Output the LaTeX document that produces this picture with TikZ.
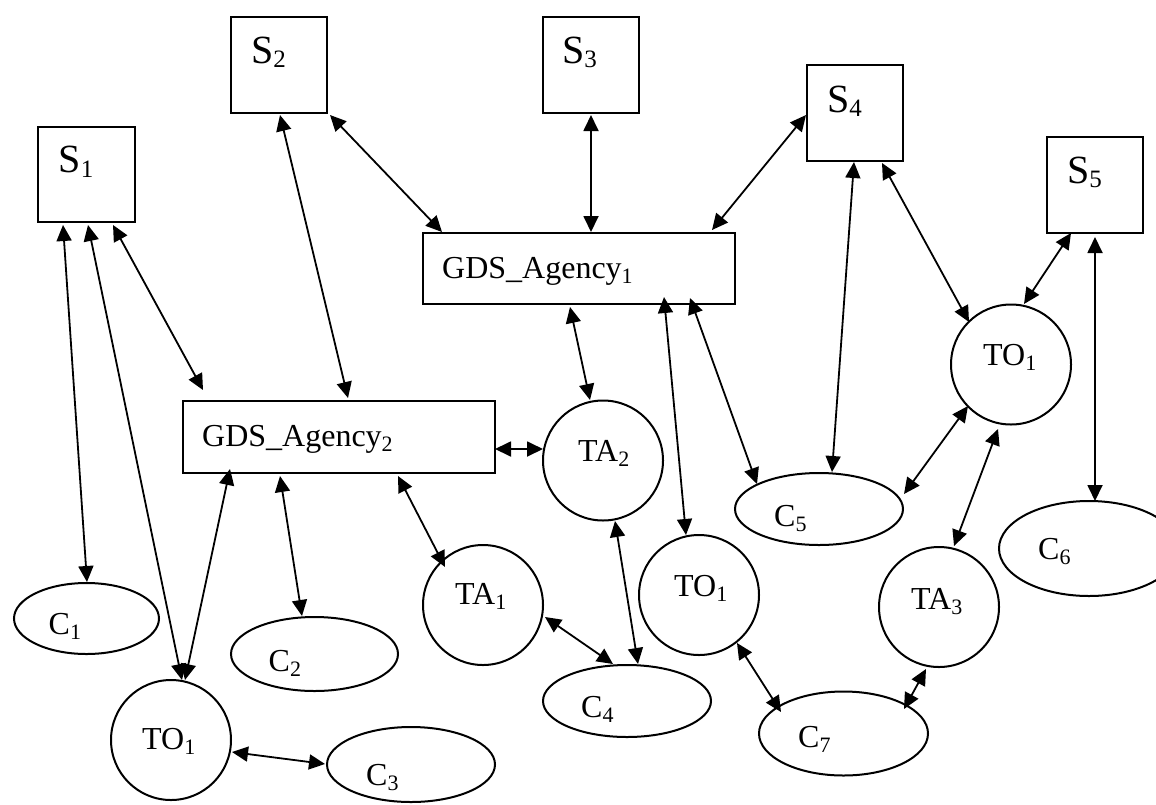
\documentclass[tikz,border=0pt]{standalone}
\usepackage{fontspec}
\setmainfont{Liberation Serif}
\usetikzlibrary{arrows.meta,calc,shapes.geometric}
\newcommand\lo[1]{\raisebox{-5pt}{\fontsize{22}{22}\selectfont #1}}
\newcommand\slo[1]{\raisebox{-4.5pt}{\fontsize{25}{25}\selectfont #1}}
\begin{document}
\begin{tikzpicture}[x=1pt,y=-1pt,
  sbox/.style={draw,line width=2pt,minimum width=96pt,minimum height=96pt,inner sep=0pt},
  gbox/.style={draw,line width=2pt,minimum width=312pt,minimum height=71.5pt,inner sep=0pt},
  circ/.style={draw,circle,line width=2pt,minimum size=120pt,inner sep=0pt},
  ell/.style={draw,ellipse,line width=2pt,inner sep=0pt},
  txt/.style={anchor=base west,inner sep=0pt,font=\fontsize{32}{36}\selectfont},
  stxt/.style={anchor=base west,inner sep=0pt,font=\fontsize{40}{44}\selectfont},
  con/.style={{Triangle[length=16pt,width=15pt]}-{Triangle[length=16pt,width=15pt]},line width=1.8pt}]
\useasboundingbox (0,0) rectangle (1156,804);
\fill[white] (0,0) rectangle (1156,804);
% source boxes
\node[sbox,minimum height=95pt,minimum width=97pt] (S1) at (86.5,174.5) {};
\node[sbox] (S2) at (279,65) {};
\node[sbox] (S3) at (591,65) {};
\node[sbox] (S4) at (855,113) {};
\node[sbox] (S5) at (1095,185) {};
% agencies
\node[gbox] (G1) at (579,268.5) {};
\node[gbox,minimum height=72pt] (G2) at (339,437) {};
% circles
\node[circ] (TA2) at (603,460.5) {};
\node[circ] (TA1) at (483,605) {};
\node[circ] (TOm) at (699,595) {};
\node[circ] (TOr) at (1011,364.5) {};
\node[circ] (TOl) at (171,740) {};
\node[circ] (TA3) at (939,607) {};
% ellipses
\node[ell,minimum width=145pt,minimum height=71pt] (C1) at (86.5,618.5) {};
\node[ell,minimum width=167pt,minimum height=74pt] (C2) at (314.5,654) {};
\node[ell,minimum width=168pt,minimum height=75pt] (C3) at (411,764.5) {};
\node[ell,minimum width=168pt,minimum height=72pt] (C4) at (627,701) {};
\node[ell,minimum width=168pt,minimum height=72pt] (C5) at (819,509) {};
\node[ell,minimum width=180pt,minimum height=95pt] (C6) at (1089,548.5) {};
\node[ell,minimum width=169pt,minimum height=84pt] (C7) at (843.5,733.5) {};
% labels
\node[stxt] (tS1) at ($(S1)+(-28,-2)$) {S\slo{1}};
\node[stxt] (tS2) at ($(S2)+(-28,-2)$) {S\slo{2}};
\node[stxt] (tS3) at ($(S3)+(-29,-2)$) {S\slo{3}};
\node[stxt] (tS4) at ($(S4)+(-28,-1)$) {S\slo{4}};
\node[stxt] (tS5) at ($(S5)+(-28,-2)$) {S\slo{5}};
\node[txt] (tG1) at ($(G1)+(-137,9.5)$) {GDS\_Agency\lo{1}};
\node[txt] (tG2) at ($(G2)+(-137,9)$) {GDS\_Agency\lo{2}};
\node[txt] (tTA2) at ($(TA2)+(-25,0.5)$) {TA\lo{2}};
\node[txt] (tTA1) at ($(TA1)+(-28,-1)$) {TA\lo{1}};
\node[txt] (tTOm) at ($(TOm)+(-25,1)$) {TO\lo{1}};
\node[txt] (tTOr) at ($(TOr)+(-28,0.5)$) {TO\lo{1}};
\node[txt] (tTOl) at ($(TOl)+(-29,9)$) {TO\lo{1}};
\node[txt] (tTA3) at ($(TA3)+(-28,2)$) {TA\lo{3}};
\node[txt] (tC1) at ($(C1)+(-38,15.5)$) {C\lo{1}};
\node[txt] (tC2) at ($(C2)+(-46,17)$) {C\lo{2}};
\node[txt] (tC3) at ($(C3)+(-45,20.5)$) {C\lo{3}};
\node[txt] (tC4) at ($(C4)+(-46,16)$) {C\lo{4}};
\node[txt] (tC5) at ($(C5)+(-45,17)$) {C\lo{5}};
\node[txt] (tC6) at ($(C6)+(-51,10.5)$) {C\lo{6}};
\node[txt] (tC7) at ($(C7)+(-45.5,13.5)$) {C\lo{7}};
% connectors
\draw[con] ($(S1)+(-23.5,50.5)$) -- ($(C1)+(0.5,-36.5)$);
\draw[con] ($(S1)+(1.5,50.5)$) -- ($(TOl)+(11,-60)$);
\draw[con] ($(S1)+(26.5,50.5)$) -- ($(G2)+(-136,-47)$);
\draw[con] ($(S2)+(1,50)$) -- ($(G2)+(9,-39)$);
\draw[con] ($(S2)+(51,50)$) -- ($(G1)+(-137,-36.5)$);
\draw[con] ($(S3)+(0,50)$) -- ($(G1)+(12,-36.5)$);
\draw[con] ($(S4)+(-49,2)$) -- ($(G1)+(133,-38.5)$);
\draw[con] ($(G1)+(-9,38.5)$) -- ($(TA2)+(-13,-60.5)$);
\draw[con] ($(G1)+(85,28.5)$) -- ($(TOm)+(-13,-60)$);
\draw[con] ($(G1)+(111,29.5)$) -- ($(C5)+(-62,-25)$);
\draw[con] ($(S4)+(-1,49)$) -- ($(C5)+(13,-37)$);
\draw[con] ($(S4)+(27,50)$) -- ($(TOr)+(-42,-42.5)$);
\draw[con] ($(S5)+(-24,48)$) -- ($(TOr)+(13,-60.5)$);
\draw[con] ($(S5)+(0,52)$) -- ($(C6)+(6,-47.5)$);
\draw[con] ($(TOr)+(-43,41.5)$) -- ($(C5)+(85,-15)$);
\draw[con] ($(TOr)+(-13,64.5)$) -- ($(TA3)+(15,-61)$);
\draw[con] ($(G2)+(-109,32)$) -- ($(TOl)+(14,-60)$);
\draw[con] ($(G2)+(-59,39)$) -- ($(C2)+(-12.5,-38)$);
\draw[con] ($(G2)+(156,12)$) -- ($(TA2)+(-60,-11.5)$);
\draw[con] ($(G2)+(59,39)$) -- ($(TA1)+(-38,-38)$);
\draw[con] ($(TA1)+(62,12)$) -- ($(C4)+(-14,-37)$);
\draw[con] ($(TA2)+(12,60.5)$) -- ($(C4)+(11,-37)$);
\draw[con] ($(TOm)+(38,48)$) -- ($(C7)+(-62.5,-21.5)$);
\draw[con] ($(TA3)+(-13,62)$) -- ($(C7)+(60.5,-24.5)$);
\draw[con] ($(TOl)+(61,12)$) -- ($(C3)+(-86,-0.5)$);
\end{tikzpicture}
\end{document}
